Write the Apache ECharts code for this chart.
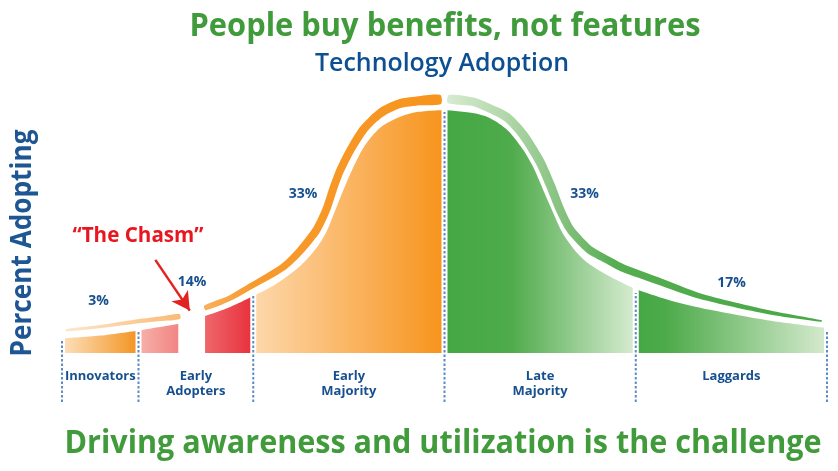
<!DOCTYPE html>
<html>
<head>
<meta charset="utf-8">
<script src="https://cdn.jsdelivr.net/npm/echarts@6/dist/echarts.min.js"></script>
<style>
html,body{margin:0;padding:0;background:#ffffff;}
#main{width:838px;height:471px;}
</style>
</head>
<body>
<div id="main"></div>
<script>
// ---------------- DATA ----------------
const categories = ['Innovators', 'Early\nAdopters', 'Early\nMajority', 'Late\nMajority', 'Laggards'];
const shareLabels = ['3%', '14%', '33%', '33%', '17%'];
// segment boundaries on the adoption timeline (0..100)
const boundaries = [0, 10, 25, 50, 75, 100];
// bell curve (percent adopting); null = "the chasm"
const curveX = [0, 5, 10, 15.2, 17, 18.7, 22, 25, 27.2, 28.9, 31.1, 32.4, 33.7, 34.6, 35.4, 36.3, 37.3, 38, 39.3, 40.7, 42, 44.2, 46.4, 50,
                53.7, 55.9, 58.2, 60.3, 61.6, 62.9, 63.8, 64.7, 65.5, 67.3, 69, 71.6, 75, 79.5, 84.7, 92.2, 100];
const curveY = [5.6, 6.7, 8.7, 11.2, null, 14.2, 17.7, 21.9, 25.2, 28.4, 33.4, 37.3, 42.2, 46.8, 52.5, 59.2, 66.3, 71, 78.5, 84, 87.6, 90.9, 92.7, 93.5,
                92.3, 90.4, 85.8, 78.1, 71.5, 62.7, 56.6, 50.6, 45.8, 38.6, 34.0, 29.4, 24.5, 20.2, 16.6, 12.6, 9.6];
// outer arc band centre line, rising side; null = chasm break
const bandLX = [0.5, 5, 9.3, 12.8, 15.4, 17, 18.7, 22, 24.8, 28.9, 31.1, 33.3, 34.6, 35.4, 36.3, 37.6, 39.3, 40.7, 42, 44.2, 46.4, 49.5];
const bandLY = [8.75, 10.2, 11.95, 13.15, 14.05, null, 17.3, 21.2, 25.9, 33.05, 39.25, 47.5, 55.55, 62.7, 69.8, 77.5, 85.55, 90, 93.05, 95.95, 96.95, 97.5];
// outer arc band centre line, falling side
const bandRX = [50.5, 53.7, 55.9, 58.2, 60.3, 62.5, 63.8, 65.1, 66.4, 68.1, 69, 71.6, 73.3, 77.8, 83.4, 92.2, 99.3];
const bandRY = [97.7, 96.65, 94.05, 90.55, 83.85, 73.45, 64.8, 55.2, 47.7, 42.0, 39.6, 35.35, 32.7, 27.85, 21.9, 15.8, 12.3];
// height of the dotted dividers at each boundary
const dividerTops = [5.4, 8.8, 21.9, 92.7, 23.1, 8.8];

// ---------------- STYLE ----------------
const FONT = '"Open Sans", "Noto Sans", sans-serif';
const bandLWidth = [2.2, 3, 4, 4.5, 5, 0, 5, 5.5, 6, 7, 7.5, 8, 8, 8, 8, 8, 8.5, 8.5, 9, 9, 9, 9];
const bandRWidth = [8, 8.5, 8.5, 9, 9, 9, 9, 8.5, 8, 8, 8, 7.5, 7.5, 7, 5.5, 4, 1.5];
const fillStops = [
  [[0, '#fde1bd'], [1, '#f39320']],
  [[0, '#f7b2aa'], [1, '#e8303c']],
  [[0, '#fdd8ac'], [1, '#f7931b']],
  [[0, '#44a744'], [0.35, '#4fab4b'], [1, '#d8ecd2']],
  [[0, '#45a845'], [0.15, '#4caa49'], [1, '#d6eacf']]
];
const bandLStops = [[0, '#fde6cc'], [0.3, '#f9bb78'], [0.5, '#f79a2c'], [1, '#f7941d']];
const bandRStops = [[0, '#d6eacf'], [0.15, '#b3d8ab'], [0.3, '#86c280'], [0.45, '#55ad50'], [1, '#48a846']];

const chart = echarts.init(document.getElementById('main'), null, {renderer: 'canvas'});

function segmentData(lo, hi) {
  const out = [];
  curveX.forEach((x, i) => {
    if (x >= lo && x <= hi) out.push([x, curveY[i] == null ? '-' : curveY[i]]);
  });
  return out;
}
function curveAt(x) {
  const i = curveX.indexOf(x);
  return i >= 0 ? curveY[i] : 0;
}

const fillSeries = categories.map((c, i) => ({
  type: 'line',
  name: c.replace('\n', ' '),
  data: segmentData(boundaries[i], boundaries[i + 1]),
  smooth: 0.3,
  connectNulls: false,
  symbol: 'none',
  lineStyle: {width: 0, opacity: 0},
  areaStyle: {opacity: 1, origin: 'auto', color: new echarts.graphic.LinearGradient(0, 0, 1, 0, fillStops[i].map(s => ({offset: s[0], color: s[1]})))},
  silent: true,
  z: 2
}));

function bandSeries(xs, ys, ws, stops) {
  return {
    type: 'custom',
    coordinateSystem: 'cartesian2d',
    silent: true,
    z: 3,
    data: [[xs[0], ys[0]]],
    renderItem: function (params, api) {
      const segs = []; let cur = [];
      xs.forEach((x, i) => {
        if (ys[i] == null) { if (cur.length) segs.push(cur); cur = []; }
        else cur.push({p: api.coord([x, ys[i]]), w: ws[i]});
      });
      if (cur.length) segs.push(cur);
      const x0 = api.coord([xs[0], 0])[0];
      const x1 = api.coord([xs[xs.length - 1], 0])[0];
      const grad = new echarts.graphic.LinearGradient(x0, 0, x1, 0, stops.map(s => ({offset: s[0], color: s[1]})), true);
      const children = segs.map(seg => {
        const up = [], dn = [];
        const n = seg.length;
        seg.forEach((d, i) => {
          const a = seg[Math.max(i - 1, 0)].p, b = seg[Math.min(i + 1, n - 1)].p;
          let tx = b[0] - a[0], ty = b[1] - a[1];
          const L = Math.hypot(tx, ty) || 1; tx /= L; ty /= L;
          const nx = ty, ny = -tx, h = d.w / 2;
          up.push([d.p[0] + nx * h, d.p[1] + ny * h]);
          dn.push([d.p[0] - nx * h, d.p[1] - ny * h]);
        });
        return {type: 'polygon', shape: {points: up.concat(dn.reverse()), smooth: 0.25}, style: {fill: grad}};
      });
      return {type: 'group', children: children};
    }
  };
}

const dividerSeries = {
  type: 'custom',
  coordinateSystem: 'cartesian2d',
  silent: true,
  z: 4,
  data: boundaries.map((b, i) => [b, dividerTops[i], Math.max(dividerTops[i], curveAt(b)) + 1]),
  renderItem: function (params, api) {
    const b = api.value(0);
    const w0 = api.coord([b, 0]);
    const w1 = api.coord([b, api.value(2)]);
    const d0 = api.coord([b, -18.8]);
    const d1 = api.coord([b, api.value(1)]);
    return {
      type: 'group',
      children: [
        {type: 'line', shape: {x1: w0[0], y1: w0[1] + 1, x2: w1[0], y2: w1[1]}, style: {stroke: '#ffffff', lineWidth: 6}},
        {type: 'line', shape: {x1: d0[0], y1: d0[1], x2: d1[0], y2: d1[1]}, style: {stroke: '#5d8cc4', lineWidth: 2, lineDash: [2.5, 2]}}
      ]
    };
  }
};

const arrowSeries = {
  type: 'line',
  data: [],
  silent: true,
  z: 6,
  markLine: {
    silent: true,
    animation: false,
    symbol: ['none', 'arrow'],
    symbolSize: [15, 18],
    label: {show: false},
    lineStyle: {color: '#e3231f', width: 2.5, type: 'solid'},
    data: [[{coord: [12.2, 35.8]}, {coord: [16.7, 16.3]}]]
  }
};

chart.setOption({
  animation: false,
  backgroundColor: '#ffffff',
  grid: {left: 62, right: 11, top: 93, bottom: 68.6, containLabel: false},
  xAxis: {type: 'value', min: 0, max: 100, show: false},
  yAxis: {type: 'value', min: -19, max: 100, show: false},
  series: fillSeries.concat([
    bandSeries(bandLX, bandLY, bandLWidth, bandLStops),
    bandSeries(bandRX, bandRY, bandRWidth, bandRStops),
    dividerSeries,
    arrowSeries
  ])
});

// ---------------- TEXT ----------------
const mctx = document.createElement('canvas').getContext('2d');
function fitScale(text, size, weight, width) {
  mctx.font = weight + ' ' + size + 'px ' + FONT;
  return width / mctx.measureText(text).width;
}
function txt(text, x, y, size, color, weight, width, extra) {
  const el = {
    type: 'text', x: x, y: y, z: 20, silent: true,
    style: {text: text, fill: color, fontSize: size, fontWeight: weight, fontFamily: FONT, align: 'center', verticalAlign: 'middle'}
  };
  if (width) el.scaleX = fitScale(text, size, weight, width);
  return Object.assign(el, extra || {});
}

const graphics = [
  txt('People buy benefits, not features', 445, 27, 32, '#409b3b', 'bold', 511),
  txt('Technology Adoption', 442, 64, 25, '#0d4f93', 600, 254),
  txt('Driving awareness and utilization is the challenge', 443, 444, 33, '#409b3b', 'bold', 757),
  txt('Percent Adopting', 23, 243, 28, '#1e5593', 'bold', 227, {rotation: Math.PI / 2}),
  txt('\u201CThe Chasm\u201D', 138, 236, 21, '#e8171f', 'bold', 131)
];
const sharePos = [[98.5, 301], [192, 282], [303, 194], [584.5, 194], [731.5, 283]];
shareLabels.forEach((s, i) => graphics.push(txt(s, sharePos[i][0], sharePos[i][1], 14, '#17508f', 'bold')));
categories.forEach((c, i) => {
  const cx = chart.convertToPixel({gridIndex: 0}, [(boundaries[i] + boundaries[i + 1]) / 2, 0])[0];
  graphics.push({
    type: 'text', x: cx, y: 369, z: 20, silent: true,
    style: {text: c, fill: '#17508f', fontSize: 13, fontWeight: 'bold', fontFamily: FONT, align: 'center', verticalAlign: 'top', lineHeight: 15}
  });
});
chart.setOption({graphic: {elements: graphics}});
</script>
</body>
</html>
